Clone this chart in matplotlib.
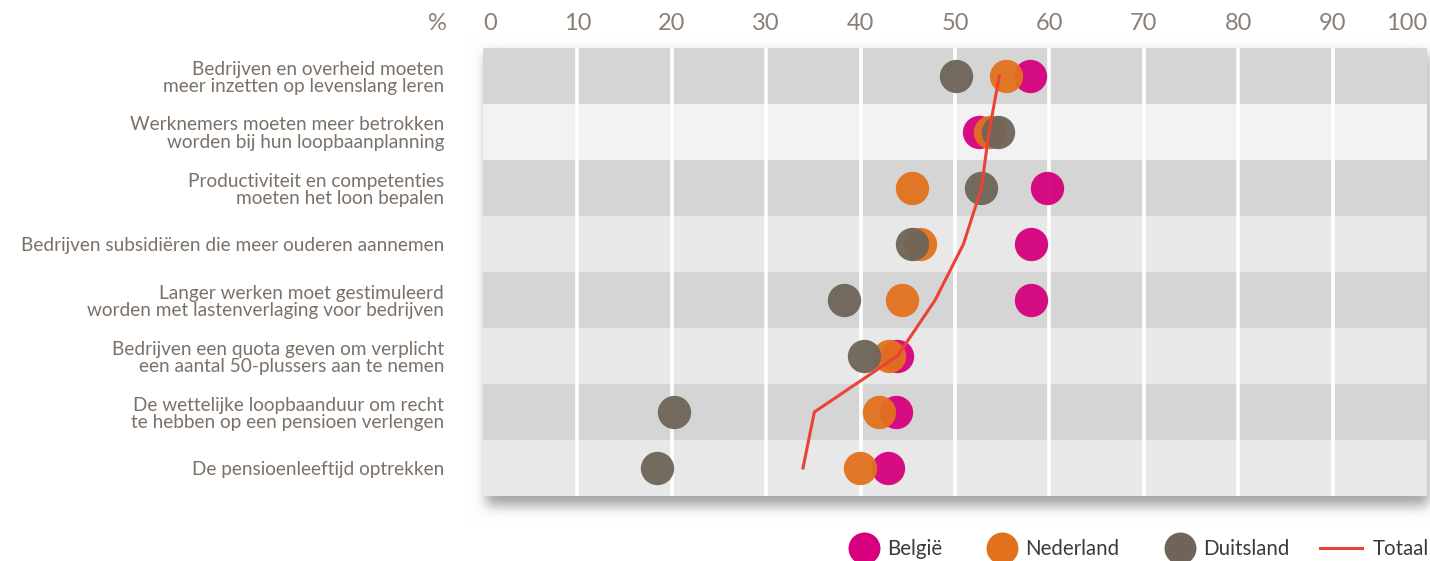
import numpy as np
import matplotlib
matplotlib.use("Agg")
import matplotlib.pyplot as plt
from matplotlib.lines import Line2D
from matplotlib.legend_handler import HandlerLine2D

plt.rcParams['font.family'] = ['Lato', 'DejaVu Sans']

# --- data -------------------------------------------------------------
statements = [
    "Bedrijven en overheid moeten\nmeer inzetten op levenslang leren",
    "Werknemers moeten meer betrokken\nworden bij hun loopbaanplanning",
    "Productiviteit en competenties\nmoeten het loon bepalen",
    "Bedrijven subsidiëren die meer ouderen aannemen",
    "Langer werken moet gestimuleerd\nworden met lastenverlaging voor bedrijven",
    "Bedrijven een quota geven om verplicht\neen aantal 50-plussers aan te nemen",
    "De wettelijke loopbaanduur om recht\nte hebben op een pensioen verlengen",
    "De pensioenleeftijd optrekken",
]
belgie     = [57.9, 52.5, 59.7, 58.0, 58.0, 43.9, 43.8, 42.9]
nederland  = [55.4, 53.7, 45.4, 46.3, 44.4, 43.0, 41.9, 39.9]
duitsland  = [50.1, 54.6, 52.8, 45.4, 38.2, 40.4, 20.2, 18.4]
totaal     = [54.7, 53.6, 52.8, 50.9, 47.9, 43.9, 35.1, 33.9]
x_ticks    = [0, 10, 20, 30, 40, 50, 60, 70, 80, 90, 100]

# --- style ------------------------------------------------------------
C_BE = "#d6007e"
C_NL = "#e2711d"
C_DE = "#6e6458"
C_TOT = "#ea4335"
TXT = "#7b7168"
TICK = "#8a7f75"
band_colors = ["#d5d5d5", "#f2f2f2", "#d5d5d5", "#e8e8e8",
               "#d5d5d5", "#e8e8e8", "#d5d5d5", "#e8e8e8"]

W, H, DPI = 1430, 561, 100
fig = plt.figure(figsize=(W / DPI, H / DPI), dpi=DPI)
fig.patch.set_facecolor("white")

ax_l, ax_r, ax_t, ax_b = 483 / W, 1427 / W, 1 - 48 / H, 1 - 496 / H
ax = fig.add_axes([ax_l, ax_b, ax_r - ax_l, ax_t - ax_b])
ax.set_zorder(2)

# soft drop shadow under the plotting area
shadow = np.zeros((H, W))
x0, x1 = int(ax_l * W) + 4, int(ax_r * W) + 2
y0, y1 = int((1 - ax_t) * H) + 6, int((1 - ax_b) * H) + 10
shadow[y0:y1, x0:x1] = 1.0
sig = 6.0
k = np.arange(-20, 21)
kern = np.exp(-k**2 / (2 * sig**2)); kern /= kern.sum()
shadow = np.apply_along_axis(lambda r: np.convolve(r, kern, mode="same"), 1, shadow)
shadow = np.apply_along_axis(lambda c: np.convolve(c, kern, mode="same"), 0, shadow)
rgba = np.ones((H, W, 4))
rgba[..., :3] = 1.0 - shadow[..., None] * 0.35
rgba[..., 3] = 1.0
fig.figimage(rgba[::-1], xo=0, yo=0, origin="lower", zorder=-10)

n = len(statements)
ypos = np.arange(n)
for i, c in enumerate(band_colors):
    ax.axhspan(i - 0.5, i + 0.5, color=c, lw=0, zorder=0)
for t in x_ticks[1:-1]:
    ax.axvline(t, color="white", lw=2.6, zorder=1)

ms = 24
ax.plot(belgie, ypos, "o", ms=ms, color=C_BE, mec="none", alpha=0.95, zorder=3)
ax.plot(nederland, ypos, "o", ms=ms, color=C_NL, mec="none", alpha=0.95, zorder=3)
ax.plot(duitsland, ypos, "o", ms=ms, color=C_DE, mec="none", alpha=0.95, zorder=3)
ax.plot(totaal, ypos, "-", color=C_TOT, lw=2.2, zorder=4)

ax.set_xlim(0, 100)
ax.set_ylim(n - 0.5, -0.5)
ax.set_xticks(x_ticks)
ax.xaxis.tick_top()
ax.tick_params(axis="x", length=0, pad=10, labelsize=17, labelcolor=TICK)
xlabels = ax.get_xticklabels()
xlabels[0].set_horizontalalignment("left")
xlabels[-1].set_horizontalalignment("right")
ax.set_yticks(ypos)
ax.set_yticklabels(statements, fontsize=13.7, color=TXT, linespacing=1.05)
ax.tick_params(axis="y", length=0, pad=28)
for s in ax.spines.values():
    s.set_visible(False)
ax.patch.set_visible(False)

ax.annotate("%", xy=(0, 1), xycoords="axes fraction", xytext=(-33, 10),
            textcoords="offset points", ha="center", va="bottom",
            fontsize=17, color=TICK)


class LongLineHandler(HandlerLine2D):
    """Legend line that reaches further left than its handle box."""
    def create_artists(self, legend, orig_handle, xdescent, ydescent,
                       width, height, fontsize, trans):
        extra = 12
        return super().create_artists(legend, orig_handle, xdescent + extra,
                                      ydescent, width + extra, height,
                                      fontsize, trans)


tot_handle = Line2D([], [], color=C_TOT, lw=2.2)
handles = [
    Line2D([], [], ls="none", marker="o", ms=23, color=C_BE, mec="none"),
    Line2D([], [], ls="none", marker="o", ms=23, color=C_NL, mec="none"),
    Line2D([], [], ls="none", marker="o", ms=23, color=C_DE, mec="none"),
    tot_handle,
]
leg = fig.legend(handles, ["België", "Nederland", "Duitsland", "Totaal"],
                 loc="lower right", bbox_to_anchor=(1.012, -0.03), ncol=4,
                 frameon=False, fontsize=14.8, handlelength=1.25,
                 handletextpad=0.5, columnspacing=2.3,
                 handler_map={tot_handle: LongLineHandler()})
for t in leg.get_texts():
    t.set_color("#3d3a37")

fig.savefig("out.png", dpi=DPI)
